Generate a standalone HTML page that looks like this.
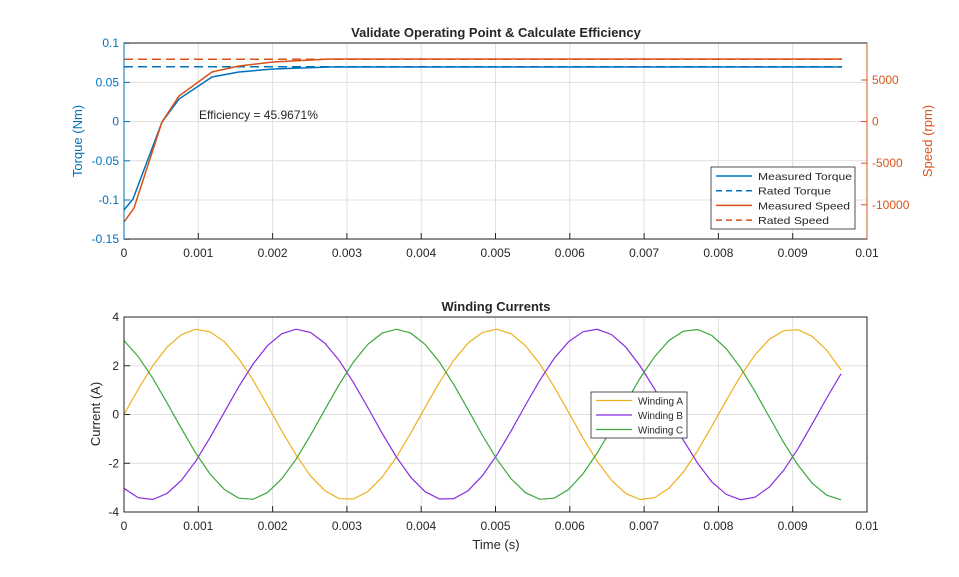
<!DOCTYPE html><html><head><style>body{margin:0;background:#fff}svg{display:block;font-family:"Liberation Sans",Arial,sans-serif}</style></head><body>
<svg id="s" width="959" height="577" xmlns="http://www.w3.org/2000/svg"></svg>
<script>
const s=document.getElementById('s');let h='';
const X=t=>124+t/0.01*743;
const TY=v=>121.6-v*784;const SY=v=>121.6-v/5000*41.6;
for(let i=0;i<=10;i++){const x=X(i*0.001);h+=`<line x1="${x}" y1="43" x2="${x}" y2="239" stroke="#dfdfdf"/>`;h+=`<line x1="${x}" y1="317" x2="${x}" y2="512" stroke="#dfdfdf"/>`;}
[0.1,0.05,0,-0.05,-0.1,-0.15].forEach(v=>{const y=TY(v);h+=`<line x1="124" y1="${y}" x2="867" y2="${y}" stroke="#dfdfdf"/><text x="119" y="${y+4}" font-size="12" fill="#0072bd" text-anchor="end">${v}</text><line x1="124" y1="${y}" x2="130" y2="${y}" stroke="#0072bd"/>`});
[5000,0,-5000,-10000].forEach(v=>{const y=SY(v);h+=`<text x="872" y="${y+4}" font-size="12" fill="#d95319">${v}</text><line x1="861" y1="${y}" x2="867" y2="${y}" stroke="#d95319"/>`});
const CY=v=>414.5-v*24.375;
[4,2,0,-2,-4].forEach(v=>{const y=CY(v);if(v!=4&&v!=-4)h+=`<line x1="124" y1="${y}" x2="867" y2="${y}" stroke="#dfdfdf"/>`;h+=`<text x="119" y="${y+4}" font-size="12" fill="#262626" text-anchor="end">${v}</text><line x1="124" y1="${y}" x2="130" y2="${y}" stroke="#262626"/>`});
for(let i=0;i<=10;i++){const x=X(i*0.001),l=i==0?'0':(i*0.001).toFixed(3).replace(/0+$/,'');
h+=`<text x="${x}" y="257" font-size="12" fill="#262626" text-anchor="middle">${l}</text><text x="${x}" y="530" font-size="12" fill="#262626" text-anchor="middle">${l}</text>`;
h+=`<line x1="${x}" y1="239" x2="${x}" y2="233" stroke="#262626"/><line x1="${x}" y1="512" x2="${x}" y2="506" stroke="#262626"/>`;}
h+=`<line x1="124" y1="${TY(0.07)}" x2="842" y2="${TY(0.07)}" stroke="#0072bd" stroke-width="1.5" stroke-dasharray="9,5"/>`;
h+=`<line x1="124" y1="${SY(7500)}" x2="842" y2="${SY(7500)}" stroke="#d95319" stroke-width="1.5" stroke-dasharray="9,5"/>`;
h+=`<polyline fill="none" stroke="#0072bd" stroke-width="1.5" points="124,210 133,199 162,122 179,99 212,77 239,72 273,69 330,67 842,67"/>`;
h+=`<polyline fill="none" stroke="#d95319" stroke-width="1.5" points="124,222 134,208 162,122 179,96 212,72 239,66 273,62 330,59 842,59"/>`;
const cols=['#edb120','#8a2be2','#3ca83c'],ph=[0,-2*Math.PI/3,2*Math.PI/3];
for(let k=0;k<3;k++){let p=[];for(let t=0;t<=0.00966;t+=0.000193){p.push(X(t).toFixed(1)+','+CY(3.5*Math.sin(2*Math.PI*t/0.004+ph[k])).toFixed(1));}
h+=`<polyline fill="none" stroke="${cols[k]}" stroke-width="1.2" points="${p.join(' ')}"/>`;}
h+=`<rect x="124" y="43" width="743" height="196" fill="none" stroke="#262626"/><line x1="124" y1="43" x2="124" y2="239" stroke="#0072bd"/><line x1="867" y1="43" x2="867" y2="239" stroke="#d95319"/>`;
h+=`<rect x="124" y="317" width="743" height="195" fill="none" stroke="#262626"/>`;
h+=`<text x="199" y="119" font-size="12" fill="#262626">Efficiency = 45.9671%</text>`;
h+=`<text x="496" y="37" font-size="13" font-weight="bold" text-anchor="middle" fill="#262626">Validate Operating Point &amp; Calculate Efficiency</text>`;
h+=`<text x="496" y="311" font-size="13" font-weight="bold" text-anchor="middle" fill="#262626">Winding Currents</text>`;
h+=`<text x="496" y="549" font-size="13" text-anchor="middle" fill="#262626">Time (s)</text>`;
h+=`<text transform="translate(82,141) rotate(-90)" font-size="13" text-anchor="middle" fill="#0072bd">Torque (Nm)</text>`;
h+=`<text transform="translate(932,141) rotate(-90)" font-size="13" text-anchor="middle" fill="#d95319">Speed (rpm)</text>`;
h+=`<text transform="translate(100,414) rotate(-90)" font-size="13" text-anchor="middle" fill="#262626">Current (A)</text>`;
h+=`<rect x="711" y="167" width="144" height="62" fill="#fff" stroke="#262626" stroke-width="0.8"/>`;
[['Measured Torque','#0072bd','',94],['Rated Torque','#0072bd','6,4',73],['Measured Speed','#d95319','',92],['Rated Speed','#d95319','6,4',71]].forEach((e,i)=>{const y=176+i*14.7;h+=`<line x1="716" y1="${y}" x2="752" y2="${y}" stroke="${e[1]}" stroke-width="1.5" stroke-dasharray="${e[2]}"/><text x="758" y="${y+4}" font-size="10.5" fill="#262626" textLength="${e[3]}" lengthAdjust="spacingAndGlyphs">${e[0]}</text>`});
h+=`<rect x="591" y="392" width="96" height="46" fill="#fff" stroke="#262626" stroke-width="0.8"/>`;
['Winding A','Winding B','Winding C'].forEach((n,i)=>{const y=400.5+i*14.5;h+=`<line x1="596" y1="${y}" x2="632" y2="${y}" stroke="${cols[i]}" stroke-width="1.2"/><text x="638" y="${y+4}" font-size="10.5" fill="#262626" textLength="45" lengthAdjust="spacingAndGlyphs">${n}</text>`});
s.innerHTML=h;
</script></body></html>
